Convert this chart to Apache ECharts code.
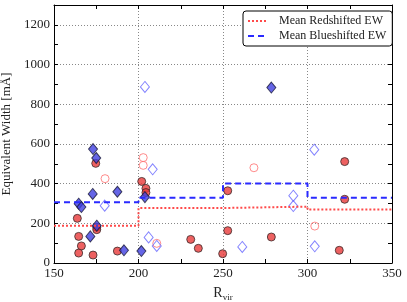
<!DOCTYPE html>
<html><head><meta charset="utf-8">
<script src="https://cdn.jsdelivr.net/npm/echarts@6/dist/echarts.min.js"></script>
<style>html,body{margin:0;padding:0;background:#fff}#c{width:407px;height:302px}</style>
</head><body><div id="c"></div>
<script>
const FONT = '"Liberation Serif", "DejaVu Serif", serif';
const xTicks = [150, 200, 250, 300, 350];
const yTicks = [0, 200, 400, 600, 800, 1000, 1200];
const redFilled = [[174.7,502],[163.8,225],[175.3,180],[175.3,168],[164.6,134],[166.2,86],[164.6,50],[173.1,40],[187.5,60],[201.9,411],[204.4,376],[204.4,355],[230.9,119],[235.4,74],[249.8,47],[252.8,364],[252.8,163],[278.6,131],[322,511],[322,321],[318.8,64]];
const blueFilled = [[173.1,574],[175,529],[172.9,348],[187.5,359],[164.6,299],[166.2,282],[175.3,188],[171.5,134],[191.4,64],[201.7,60],[203.8,332],[278.6,884]];
const redOpen = [[180.2,425],[202.8,531],[202.8,492],[210.8,99],[268.3,480],[304.3,186]];
const blueOpen = [[180,289],[208.4,472],[206,129],[210.8,86],[203.8,887],[291.6,339],[291.6,287],[261.4,81],[304,571],[304.3,84]];
const binEdges = [150, 200, 250, 300, 350];
const redMean = [188, 277, 284, 269];
const blueMean = [306, 329, 401, 329];

function stepData(edges, vals) {
  const d = edges.slice(0, -1).map((e, i) => [e, vals[i]]);
  d.push([edges[edges.length - 1], vals[vals.length - 1]]);
  return d;
}
function mkX(pos, main) {
  return {
    type: 'value', position: pos, min: 150, max: 350, interval: 25,
    axisLine: {show: true, onZero: false, lineStyle: {color: '#000', width: 1}},
    axisTick: {show: true, inside: true, length: 4, lineStyle: {color: '#000'}},
    axisLabel: {show: main, color: '#222', fontFamily: FONT, fontSize: 13, margin: 4,
      formatter: v => xTicks.includes(v) ? String(v) : ''},
    splitLine: {show: main, lineStyle: {color: ['#888', 'rgba(0,0,0,0)'], type: [1, 2], width: 1}},
    name: main ? 'R{s|vir}' : '', nameLocation: 'middle', nameGap: 22,
    nameTextStyle: {color: '#222', fontFamily: FONT, fontSize: 14,
      rich: {s: {fontFamily: FONT, fontSize: 9, color: '#222', padding: [8, 0, 0, 0]}}}
  };
}
function mkY(pos, main) {
  return {
    type: 'value', position: pos, min: 0, max: 1300, interval: 100,
    axisLine: {show: true, onZero: false, lineStyle: {color: '#000', width: 1}},
    axisTick: {show: true, inside: true, length: 4, lineStyle: {color: '#000'}},
    axisLabel: {show: main, color: '#222', fontFamily: FONT, fontSize: 13, margin: 4,
      formatter: v => yTicks.includes(v) ? String(v) : ''},
    splitLine: {show: main, lineStyle: {color: ['#888', 'rgba(0,0,0,0)'], type: [1, 2], width: 1}},
    name: main ? 'Equivalent Width [mÅ]' : '', nameLocation: 'middle', nameGap: 38,
    nameTextStyle: {color: '#222', fontFamily: FONT, fontSize: 13}
  };
}
const chart = echarts.init(document.getElementById('c'), null, {renderer: 'canvas'});
chart.setOption({
  animation: false,
  backgroundColor: '#fff',
  grid: {left: 54, right: 15, top: 5, bottom: 39, containLabel: false, outerBoundsMode: 'none'},
  xAxis: [mkX('bottom', true), mkX('top', false)],
  yAxis: [mkY('left', true), mkY('right', false)],
  legend: {
    data: [
      {name: 'Mean Redshifted EW', itemStyle: {opacity: 0}},
      {name: 'Mean Blueshifted EW', itemStyle: {opacity: 0}}
    ],
    orient: 'vertical', left: 243, top: 11, width: 143,
    padding: [4, 6, 4, 4], itemGap: 3, itemWidth: 20, itemHeight: 10,
    backgroundColor: '#fff', borderColor: '#000', borderWidth: 1, borderRadius: 3,
    textStyle: {fontFamily: FONT, fontSize: 12, color: '#222', padding: [0, 0, 0, 6]}
  },
  series: [
    {type: 'scatter', data: redOpen, symbol: 'circle', symbolSize: 8, z: 2,
      itemStyle: {color: 'rgba(255,255,255,0)', borderColor: '#ff6f6f', borderWidth: 1}},
    {type: 'scatter', data: blueOpen, symbol: 'diamond', symbolSize: [9, 11], z: 2,
      itemStyle: {color: 'rgba(255,255,255,0)', borderColor: '#6464ff', borderWidth: 1}},
    {type: 'scatter', data: redFilled, symbol: 'circle', symbolSize: 8, z: 3,
      itemStyle: {color: '#e83a3a', borderColor: '#3a2a2a', borderWidth: 1}},
    {type: 'scatter', data: blueFilled, symbol: 'diamond', symbolSize: [9, 11], z: 3,
      itemStyle: {color: '#3f3fe0', borderColor: '#1a1a3a', borderWidth: 1}},
    {name: 'Mean Redshifted EW', type: 'line', step: 'end', data: stepData(binEdges, redMean),
      symbol: 'none', z: 4, lineStyle: {color: '#ff4a4a', width: 2, type: [2, 2]},
      itemStyle: {color: '#ff4a4a'}},
    {name: 'Mean Blueshifted EW', type: 'line', step: 'end', data: stepData(binEdges, blueMean),
      symbol: 'none', z: 4, lineStyle: {color: '#2a2aff', width: 2, type: [6, 4]},
      itemStyle: {color: '#2a2aff'}}
  ]
});
</script></body></html>
